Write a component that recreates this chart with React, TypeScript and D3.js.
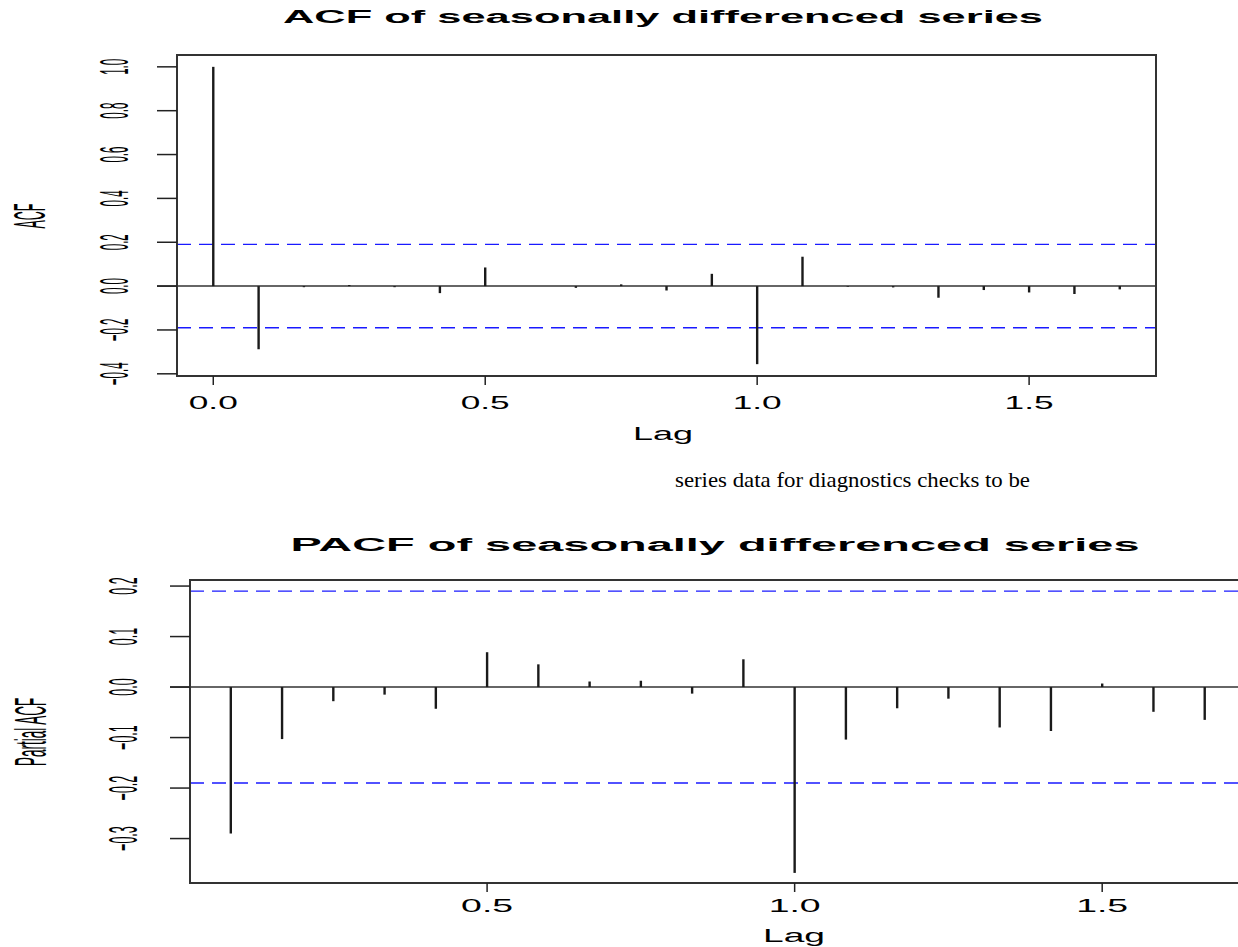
import React from 'react';
import * as d3 from 'd3';

// lag k/12 (monthly series, lag in years)
const FREQ = 12;
const acfValues = [1.0, -0.288, -0.005, 0.005, -0.005, -0.032, 0.085, 0.0, -0.008, 0.008, -0.02,
  0.056, -0.356, 0.134, -0.003, -0.006, -0.053, -0.018, -0.029, -0.036, -0.015];
const pacfValues = [-0.29, -0.103, -0.028, -0.015, -0.043, 0.069, 0.045, 0.011, 0.0125, -0.013,
  0.055, -0.368, -0.104, -0.042, -0.023, -0.08, -0.087, 0.007, -0.049, -0.065];
const confLimit = 0.19;

const acfYTicks = [-0.4, -0.2, 0.0, 0.2, 0.4, 0.6, 0.8, 1.0];
const acfXTicks = [0.0, 0.5, 1.0, 1.5];
const pacfYTicks = [-0.3, -0.2, -0.1, 0.0, 0.1, 0.2];
const pacfXTicks = [0.5, 1.0, 1.5];

const SANS = 'Liberation Sans, Arial, sans-serif';

type PanelProps = {
  title: string;
  ylab: string;
  values: number[];
  firstLag: number;
  xTicks: number[];
  yTicks: number[];
  xDomain: [number, number];
  yDomain: [number, number];
  box: { left: number; right: number; top: number; bottom: number };
  titleX: number; titleY: number; titleLen: number;
  tickLabelX: number; ylabX: number; ylabY: number;
  rotFont: number; rotScale: number;
  xLabY: number; xLabLen: number; lagY: number; lagLen: number; lagX: number;
  closedRight: boolean;
};

const Panel = (p: PanelProps) => {
  const x = d3.scaleLinear().domain(p.xDomain).range([p.box.left, p.box.right]);
  const y = d3.scaleLinear().domain(p.yDomain).range([p.box.bottom, p.box.top]);
  const data = p.values.map((v, i) => ({ lag: (i + p.firstLag) / FREQ, v }));
  const right = Math.min(p.box.right, 1240);
  const fmt = d3.format('.1f');

  return (
    <g>
      <text x={p.titleX} y={p.titleY} textAnchor="middle" fontFamily={SANS} fontWeight="bold"
        fontSize={18} textLength={p.titleLen} lengthAdjust="spacingAndGlyphs" fill="#000">{p.title}</text>

      {/* zero line */}
      <line x1={p.box.left - 20} x2={right} y1={y(0)} y2={y(0)} stroke="#333" strokeWidth={1.5} />

      {/* confidence bounds */}
      {[confLimit, -confLimit].map(c => (
        <line key={c} x1={p.box.left} x2={right} y1={y(c)} y2={y(c)}
          stroke="#1a1aff" strokeWidth={1.3} strokeDasharray="14 8" />
      ))}

      {/* spikes */}
      {data.map(d => (
        <line key={d.lag} x1={x(d.lag)} x2={x(d.lag)} y1={y(0)} y2={y(d.v)}
          stroke="#1a1a1a" strokeWidth={2.4} />
      ))}

      {/* box */}
      <path d={p.closedRight
        ? `M${p.box.left},${p.box.top}H${p.box.right}V${p.box.bottom}H${p.box.left}Z`
        : `M${right},${p.box.top}H${p.box.left}V${p.box.bottom}H${right}`}
        fill="none" stroke="#333" strokeWidth={2} />

      {/* y axis */}
      {p.yTicks.map(t => (
        <g key={t}>
          <line x1={p.box.left - 20} x2={p.box.left} y1={y(t)} y2={y(t)} stroke="#222" strokeWidth={1.5} />
          <text transform={`translate(${p.tickLabelX},${y(t)}) scale(${p.rotScale},1) rotate(-90)`}
            textAnchor="middle" dominantBaseline="central" fontFamily={SANS} fontSize={p.rotFont}
            fill="#000">{fmt(t)}</text>
        </g>
      ))}
      <text transform={`translate(${p.ylabX},${p.ylabY}) scale(${p.rotScale},1) rotate(-90)`}
        textAnchor="middle" dominantBaseline="central" fontFamily={SANS} fontSize={p.rotFont + 1}
        fill="#000">{p.ylab}</text>

      {/* x axis */}
      {p.xTicks.map(t => (
        <g key={t}>
          <line x1={x(t)} x2={x(t)} y1={p.box.bottom} y2={p.box.bottom + 9} stroke="#222" strokeWidth={1.5} />
          <text x={x(t)} y={p.xLabY} textAnchor="middle" fontFamily={SANS} fontSize={18}
            textLength={p.xLabLen} lengthAdjust="spacingAndGlyphs" fill="#000">{fmt(t)}</text>
        </g>
      ))}
      <text x={p.lagX} y={p.lagY} textAnchor="middle" fontFamily={SANS} fontSize={18}
        textLength={p.lagLen} lengthAdjust="spacingAndGlyphs" fill="#000">Lag</text>
    </g>
  );
};

const App = () => {
  return (
    <div style={{ position: 'absolute', left: 0, top: 0, width: 1238, height: 947, background: '#fff' }}>
      <svg width={1238} height={947} style={{ display: 'block' }}>
        <rect width={1238} height={947} fill="#fff" />
        <Panel
          title="ACF of seasonally differenced series" ylab="ACF" values={acfValues} firstLag={0}
          xTicks={acfXTicks} yTicks={acfYTicks}
          xDomain={[-0.0667, 1.7333]} yDomain={[-0.41, 1.054]}
          box={{ left: 177, right: 1156, top: 55, bottom: 376 }}
          titleX={663} titleY={23} titleLen={760}
          tickLabelX={114} ylabX={30} ylabY={216} rotFont={11.5} rotScale={3.5}
          xLabY={409} xLabLen={49} lagX={663} lagY={440} lagLen={60}
          closedRight={true}
        />
        <text x={675} y={487} fontFamily="Liberation Serif, Times New Roman, serif" fontSize={21}
          textLength={355} lengthAdjust="spacingAndGlyphs" fill="#000">series data for diagnostics checks to be</text>
        <Panel
          title="PACF of seasonally differenced series" ylab="Partial ACF" values={pacfValues} firstLag={1}
          xTicks={pacfXTicks} yTicks={pacfYTicks}
          xDomain={[0.017, 1.8167]} yDomain={[-0.388, 0.212]}
          box={{ left: 190, right: 1297, top: 580, bottom: 883 }}
          titleX={715} titleY={551} titleLen={849}
          tickLabelX={122} ylabX={30} ylabY={732} rotFont={12.5} rotScale={3.3}
          xLabY={912} xLabLen={52} lagX={794} lagY={942} lagLen={62}
          closedRight={false}
        />
      </svg>
    </div>
  );
};

export default App;
